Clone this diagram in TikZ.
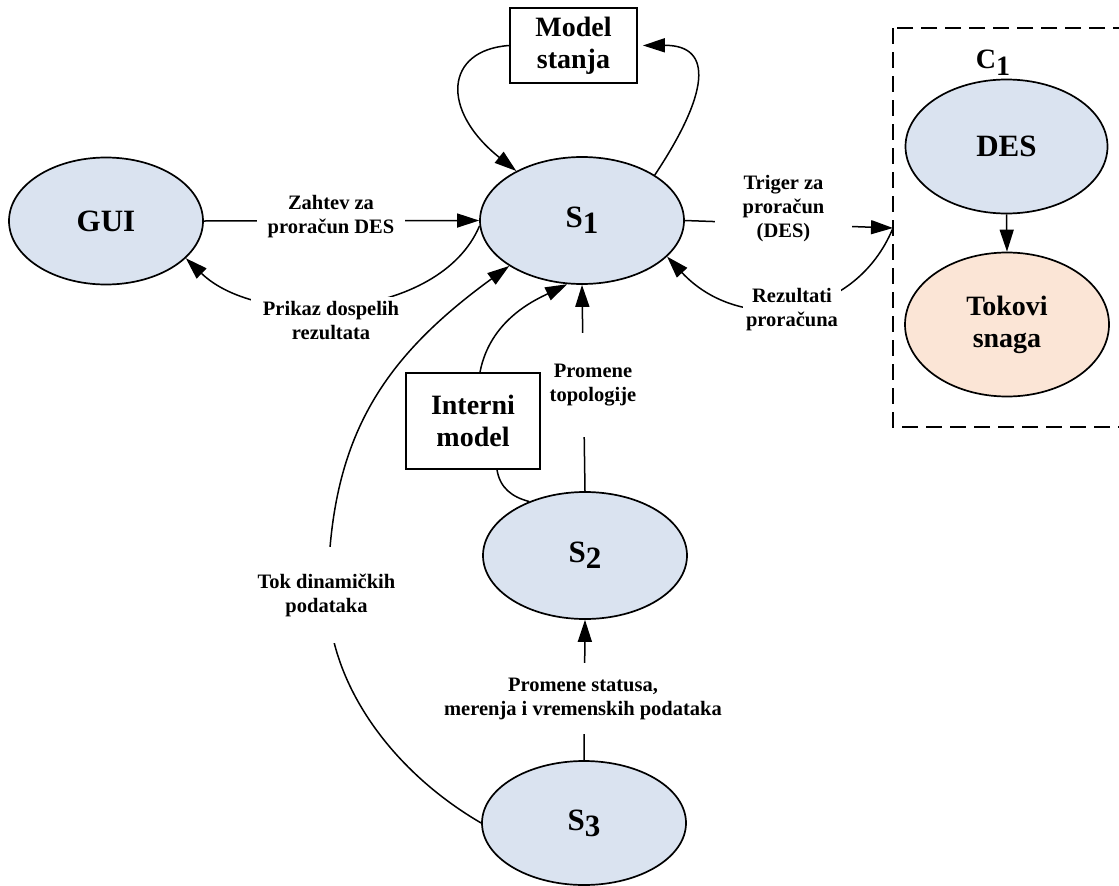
\documentclass[tikz,border=0pt]{standalone}
\usepackage{fontspec}
\setmainfont{Liberation Serif}
\usetikzlibrary{shapes.geometric,arrows.meta}
\definecolor{nodeblue}{HTML}{DAE3F0}
\definecolor{nodepeach}{HTML}{FBE5D6}
% lowered index digit, same size as the letter
\newcommand{\lowidx}[1]{\raisebox{-6pt}{#1}}

\begin{document}
\begin{tikzpicture}[x=1pt,y=-1pt,
  proc/.style={ellipse, draw, line width=1.7pt, fill=nodeblue, inner sep=0pt,
    minimum width=204pt, minimum height=127pt, align=center,
    font=\fontsize{31}{35}\selectfont\bfseries},
  store/.style={rectangle, draw, line width=1.7pt, fill=white, inner sep=0pt,
    align=center, font=\fontsize{28}{32}\selectfont\bfseries},
  lbl/.style={fill=white, align=center, inner sep=0pt,
    font=\fontsize{20.5}{24}\selectfont\bfseries},
  flow/.style={line width=1.5pt, -{Triangle[length=22pt,width=14pt]}},
  link/.style={line width=1.5pt},
  groupbox/.style={line width=2.6pt, dash pattern=on 16pt off 8pt},
]
\useasboundingbox (0,0) rectangle (1119,886);

% processes
\node[proc, minimum width=194pt] (gui) at (106,221) {GUI};
\node[proc] (s1) at (582,220.5) {\bfseries S\lowidx{1}};
\node[proc] (s2) at (585,555.5) {\bfseries S\lowidx{2}};
\node[proc, minimum height=124pt] (s3) at (584,823) {\bfseries S\lowidx{3}};

% data stores
\node[store, minimum width=127pt, minimum height=75pt] (ms) at (573.5,45.5) {Model\\stanja};
\node[store, minimum width=134pt, minimum height=96pt] (im) at (473,421) {Interni\\model};

% component C1
\draw[groupbox] (893,28) rectangle (1140,427);
\node[font=\fontsize{28}{32}\selectfont\bfseries] (c1) at (993,63) {C\raisebox{-7pt}{1}};
\node[proc, minimum width=202pt, minimum height=134pt] (des) at (1006.5,146.5) {DES};
\node[proc, fill=nodepeach, minimum height=144pt,
      font=\fontsize{28}{32}\selectfont\bfseries] (tok) at (1007,324.5) {Tokovi\\snaga};
\coordinate (hub) at (893,228);

% flows
\draw[flow] (gui.east) -- (s1.west);
\draw[flow] (s1.183) .. controls (440,320) and (260,330) .. (gui.-25);
\draw[flow] (ms.west) .. controls (445,50) and (440,110) .. (s1.143);
\draw[flow, shorten >=5pt] (s1.32) .. controls (708,95) and (715,45) .. (ms.east);
\draw[flow] (s1.east) -- (hub);
\draw[flow] (hub) .. controls (855,320) and (740,335) .. (s1.-23);
\draw[flow] (des.south) -- (tok.north);
\draw[flow] (s2.north) -- (s1.south);
\draw[flow] ([xshift=7pt]im.north) .. controls (490,320) and (535,300) .. (s1.-103);
\draw[link] ([xshift=24pt]im.south) .. controls (500,488) and (512,497) .. (s2.136);
\draw[flow] (s3.north) -- (s2.south);
\draw[flow] (s3.west) .. controls (390,770) and (326,680) .. (328,590)
  .. controls (330,440) and (380,360) .. (s1.212);

% flow labels
\node[lbl, inner xsep=11pt] (lzah) at (331,217) {Zahtev za\\proračun DES};
\node[lbl, inner xsep=12pt, inner ysep=5pt] (lpri) at (331,321) {Prikaz dospelih\\rezultata};
\node[lbl, inner xsep=28pt, inner ysep=2pt] (ltri) at (783.5,209) {Triger za\\proračun\\(DES)};
\node[lbl, inner xsep=3pt, inner ysep=2pt] (lrez) at (792,310) {Rezultati\\proračuna};
\node[lbl, inner xsep=4pt, inner ysep=31pt] (ltop) at (593,385) {Promene\\topologije};
\node[lbl, inner ysep=15pt] (lsta) at (583,698.5) {Promene statusa,\\merenja i vremenskih podataka};
\node[lbl, inner ysep=27pt] (ltok) at (326.5,595) {Tok dinamičkih\\podataka};
\end{tikzpicture}
\end{document}
